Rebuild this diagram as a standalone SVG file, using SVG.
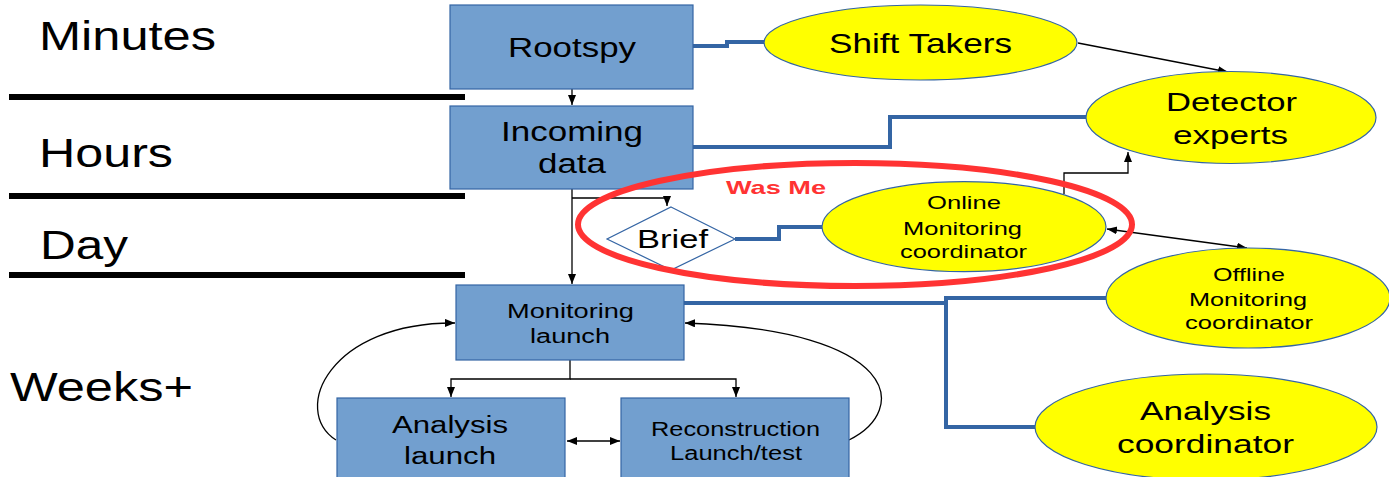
<svg xmlns="http://www.w3.org/2000/svg" width="1389" height="477" viewBox="0 0 1389 477">
<style>
text{font-family:"Liberation Sans",Arial,sans-serif;fill:#000}
.box{fill:#729fcf;stroke:#3465a4;stroke-width:1.2}
.ell{fill:#ffff00;stroke:#3465a4;stroke-width:1.2}
.dia{fill:#fff;stroke:#3465a4;stroke-width:1.2}
.blue{fill:none;stroke:#3465a4;stroke-width:4}
.arr{fill:none;stroke:#000;stroke-width:1.3;marker-end:url(#ah)}
.arr2{fill:none;stroke:#000;stroke-width:1.3;marker-end:url(#ah);marker-start:url(#ah)}
.bar{stroke:#000;stroke-width:6}
</style>
<defs>
<marker id="ah" markerWidth="11" markerHeight="9" refX="10" refY="4" orient="auto-start-reverse" markerUnits="userSpaceOnUse">
<path d="M0,0 L10,4 L0,8 z" fill="#000"/>
</marker>
</defs>
<rect width="1389" height="477" fill="#fff"/>
<g id="timescale">
<line class="bar" x1="9" y1="97" x2="465" y2="97"/>
<line class="bar" x1="9" y1="196" x2="465" y2="196"/>
<line class="bar" x1="9" y1="275" x2="465" y2="275"/>
<text x="39" y="50" font-size="41" textLength="177" lengthAdjust="spacingAndGlyphs">Minutes</text>
<text x="39" y="167" font-size="41" textLength="134" lengthAdjust="spacingAndGlyphs">Hours</text>
<text x="40" y="259" font-size="41" textLength="88" lengthAdjust="spacingAndGlyphs">Day</text>
<text x="10" y="401" font-size="41" textLength="183" lengthAdjust="spacingAndGlyphs">Weeks+</text>
</g>
<g id="connectors">
<path class="blue" d="M693,46 H727 V42 H765"/>
<path class="blue" d="M693,147 H890 V117 H1086"/>
<path class="blue" d="M735,239 H779 V227 H822"/>
<path class="blue" d="M684,303 H946 V427 H1035"/>
<path class="blue" d="M946,303 V298 H1106"/>
<path class="arr" d="M572,89 V105"/>
<path class="arr" d="M572,189 V284"/>
<path class="arr" d="M572,198 H667 V206"/>
<path class="arr" d="M1078,43 L1228,72"/>
<path class="arr" d="M1064,194 V173 H1128 V152"/>
<path class="arr2" d="M1107,229 L1247,248"/>
<path class="arr" d="M570,360 V379 H451 V397"/>
<path class="arr" d="M570,379 H736 V397"/>
<path class="arr2" d="M567,441 H620"/>
<path class="arr" d="M336,440 C290,410 330,322 455,323"/>
<path class="arr" d="M849,440 C910,410 900,330 685,323"/>
</g>
<g id="rootspy">
<rect class="box" x="450" y="5" width="243" height="84"/>
<text x="508" y="57" font-size="27" textLength="128" lengthAdjust="spacingAndGlyphs">Rootspy</text>
</g>
<g id="incoming-data">
<rect class="box" x="450" y="106" width="243" height="83"/>
<text x="501" y="141" font-size="27" textLength="142" lengthAdjust="spacingAndGlyphs">Incoming</text>
<text x="538" y="173" font-size="27" textLength="68" lengthAdjust="spacingAndGlyphs">data</text>
</g>
<g id="brief">
<polygon class="dia" points="671,207 735,239 671,270 607,239"/>
<text x="637" y="248" font-size="25" textLength="71" lengthAdjust="spacingAndGlyphs">Brief</text>
</g>
<g id="monitoring-launch">
<rect class="box" x="456" y="285" width="228" height="75"/>
<text x="507" y="318" font-size="20" textLength="127" lengthAdjust="spacingAndGlyphs">Monitoring</text>
<text x="530" y="343" font-size="20" textLength="80" lengthAdjust="spacingAndGlyphs">launch</text>
</g>
<g id="analysis-launch">
<rect class="box" x="337" y="398" width="228" height="84"/>
<text x="392" y="433" font-size="23" textLength="116" lengthAdjust="spacingAndGlyphs">Analysis</text>
<text x="404" y="464" font-size="23" textLength="92" lengthAdjust="spacingAndGlyphs">launch</text>
</g>
<g id="reconstruction-launch">
<rect class="box" x="621" y="398" width="228" height="84"/>
<text x="651" y="436" font-size="19.5" textLength="169" lengthAdjust="spacingAndGlyphs">Reconstruction</text>
<text x="670" y="460" font-size="19.5" textLength="132" lengthAdjust="spacingAndGlyphs">Launch/test</text>
</g>
<g id="shift-takers">
<ellipse class="ell" cx="920.5" cy="42.5" rx="156.5" ry="37.5"/>
<text x="829" y="53" font-size="28" textLength="183" lengthAdjust="spacingAndGlyphs">Shift Takers</text>
</g>
<g id="detector-experts">
<ellipse class="ell" cx="1231" cy="117.5" rx="145" ry="46"/>
<text x="1166" y="111" font-size="26" textLength="131" lengthAdjust="spacingAndGlyphs">Detector</text>
<text x="1173" y="144" font-size="26" textLength="115" lengthAdjust="spacingAndGlyphs">experts</text>
</g>
<g id="online-monitoring-coordinator">
<ellipse class="ell" cx="964" cy="226.7" rx="142" ry="45"/>
<text x="927" y="209" font-size="19" textLength="74" lengthAdjust="spacingAndGlyphs">Online</text>
<text x="903" y="235" font-size="19" textLength="119" lengthAdjust="spacingAndGlyphs">Monitoring</text>
<text x="900" y="257.5" font-size="19" textLength="127" lengthAdjust="spacingAndGlyphs">coordinator</text>
</g>
<g id="offline-monitoring-coordinator">
<ellipse class="ell" cx="1248" cy="298" rx="142" ry="50"/>
<text x="1213" y="280.5" font-size="19" textLength="72" lengthAdjust="spacingAndGlyphs">Offline</text>
<text x="1189" y="305.5" font-size="19" textLength="118" lengthAdjust="spacingAndGlyphs">Monitoring</text>
<text x="1185" y="329" font-size="19" textLength="128" lengthAdjust="spacingAndGlyphs">coordinator</text>
</g>
<g id="analysis-coordinator">
<ellipse class="ell" cx="1206" cy="427" rx="171" ry="53"/>
<text x="1140" y="420" font-size="26" textLength="131" lengthAdjust="spacingAndGlyphs">Analysis</text>
<text x="1117" y="453" font-size="26" textLength="177" lengthAdjust="spacingAndGlyphs">coordinator</text>
</g>
<g id="was-me">
<ellipse cx="855" cy="224.5" rx="277" ry="61.5" fill="none" stroke="#ff3333" stroke-width="6"/>
<text x="726" y="194" font-size="19" font-weight="bold" fill="#ff3333" style="fill:#ff3333" textLength="100" lengthAdjust="spacingAndGlyphs">Was Me</text>
</g>
</svg>
